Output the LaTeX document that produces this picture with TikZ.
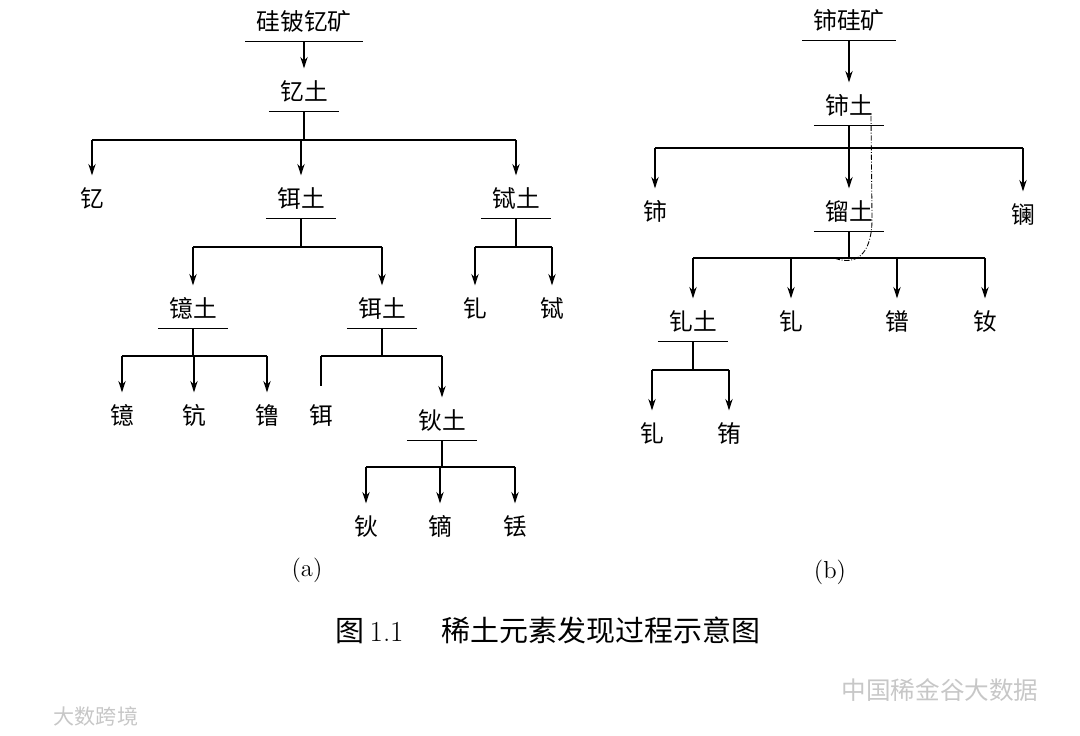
\documentclass[tikz,border=0pt]{standalone}
\usepackage{fontspec}
\usepackage{tikz}
\usetikzlibrary{arrows.meta}
\newfontfamily\cjk{Noto Sans CJK SC}

\begin{document}
\begin{tikzpicture}[x=0.02cm,y=-0.02cm,line width=0.95pt,>={Stealth[length=6.5pt,width=4.2pt]},
  el/.style={font=\cjk\fontsize{13.5}{16}\selectfont,inner xsep=6pt,inner ysep=3.4pt,text height=10.8pt,text depth=2.7pt},
  arr/.style={->,shorten >=3.4pt},
  wm/.style={font=\cjk\fontsize{14}{16}\selectfont,text=black!22}]
  \useasboundingbox (0,0) rectangle (1080,736);
  % (a)
  \node[el] (ore) at (304,23) {硅铍钇矿}; \node[el] (yt) at (304,93) {钇土};
  \draw (ore.south west) -- (ore.south east); \draw[arr] (ore.south) -- (yt);
  \draw (yt.south west) -- (yt.south east);
  \coordinate (barA) at (0,140); \coordinate (barB) at (0,247); \coordinate (barE) at (0,356); \coordinate (barH) at (0,467);
  \node[el] (Y) at (92,200) {钇}; \node[el] (ErO) at (301,200) {铒土}; \node[el] (TbO) at (516,200) {铽土};
  \draw (yt.south) -- (yt.south |- barA); \draw (Y.north |- barA) -- (TbO.north |- barA);
  \foreach \n in {Y,ErO,TbO} \draw[arr] (\n.north |- barA) -- (\n);
  \draw (ErO.south west) -- (ErO.south east); \draw (TbO.south west) -- (TbO.south east);
  \node[el] (YbO) at (193,310) {镱土}; \node[el] (ErT) at (382,310) {铒土};
  \draw (ErO.south) -- (ErO.south |- barB); \draw (YbO.north |- barB) -- (ErT.north |- barB);
  \foreach \n in {YbO,ErT} \draw[arr] (\n.north |- barB) -- (\n);
  \node[el] (Gd) at (475,310) {钆}; \node[el] (Tb) at (552,310) {铽};
  \draw (TbO.south) -- (TbO.south |- barB); \draw (Gd.north |- barB) -- (Tb.north |- barB);
  \foreach \n in {Gd,Tb} \draw[arr] (\n.north |- barB) -- (\n);
  % Yb, Er branches
  \draw (YbO.south west) -- (YbO.south east); \draw (ErT.south west) -- (ErT.south east);
  \node[el] (Yb) at (122,417) {镱}; \node[el] (Sc) at (194,417) {钪}; \node[el] (Lu) at (267,417) {镥};
  \draw (YbO.south) -- (YbO.south |- barE); \draw (Yb.north |- barE) -- (Lu.north |- barE);
  \foreach \n in {Yb,Sc,Lu} \draw[arr] (\n.north |- barE) -- (\n);
  \node[el] (Er) at (321,417) {铒}; \node[el] (HoO) at (442,422) {钬土};
  \draw (ErT.south) -- (ErT.south |- barE); \draw (Er.north |- barE) -- (HoO.north |- barE);
  \draw[shorten >=7pt] (Er.north |- barE) -- (Er); \draw[arr] (HoO.north |- barE) -- (HoO);
  \draw (HoO.south west) -- (HoO.south east);
  \node[el] (Ho) at (366,528) {钬}; \node[el] (Dy) at (440,528) {镝}; \node[el] (Tm) at (515,528) {铥};
  \draw (HoO.south) -- (HoO.south |- barH); \draw (Ho.north |- barH) -- (Tm.north |- barH);
  \foreach \n in {Ho,Dy,Tm} \draw[arr] (\n.north |- barH) -- (\n);
  \node[font=\fontsize{14}{16}\selectfont] (capa) at (307,570) {(a)};
  % (b)
  \node[el] (cer) at (849,22) {铈硅矿}; \node[el] (CeO) at (849,107) {铈土};
  \draw (cer.south west) -- (cer.south east); \draw[arr] (cer.south) -- (CeO);
  \draw (CeO.south west) -- (CeO.south east);
  \coordinate (barC) at (0,148); \coordinate (barD) at (0,258); \coordinate (barS) at (0,370);
  \node[el] (Ce) at (655,213) {铈}; \node[el] (DiO) at (849,213) {镏土}; \node[el] (La) at (1023,216) {镧};
  \draw (CeO.south) -- (CeO.south |- barC); \draw (Ce.north |- barC) -- (La.north |- barC);
  \foreach \n in {Ce,DiO,La} \draw[arr] (\n.north |- barC) -- (\n);
  \draw (DiO.south west) -- (DiO.south east);
  \node[el] (SmO) at (693,323) {钆土}; \node[el] (Gdb) at (791,323) {钆}; \node[el] (Pr) at (897,323) {镨}; \node[el] (Nd) at (985,323) {钕};
  \draw (DiO.south) -- (DiO.south |- barD); \draw (SmO.north |- barD) -- (Nd.north |- barD);
  \foreach \n in {SmO,Gdb,Pr,Nd} \draw[arr] (\n.north |- barD) -- (\n);
  \draw (SmO.south west) -- (SmO.south east);
  \node[el] (Gdc) at (652,435) {钆}; \node[el] (Eu) at (729,435) {铕};
  \draw (SmO.south) -- (SmO.south |- barS); \draw (Gdc.north |- barS) -- (Eu.north |- barS);
  \foreach \n in {Gdc,Eu} \draw[arr] (\n.north |- barS) -- (\n);
  \draw[line width=0.5pt,densely dashdotted] (871,116) -- (872,215) .. controls (873,252) and (858,267) .. (834,258);
  \node[font=\fontsize{14}{16}\selectfont] (capb) at (830,572) {(b)};
  % caption and marks
  \node[font=\fontsize{16.5}{19}\selectfont] (cap) at (548,630) {{\cjk 图}\,1.1\hspace{1.3em}{\cjk 稀土元素发现过程示意图}};
  \node[wm] (wm1) at (940,690) {中国稀金谷大数据};
  \node[wm,font=\cjk\fontsize{12}{14}\selectfont] (wm2) at (96,716) {大数跨境};
\end{tikzpicture}
\end{document}
